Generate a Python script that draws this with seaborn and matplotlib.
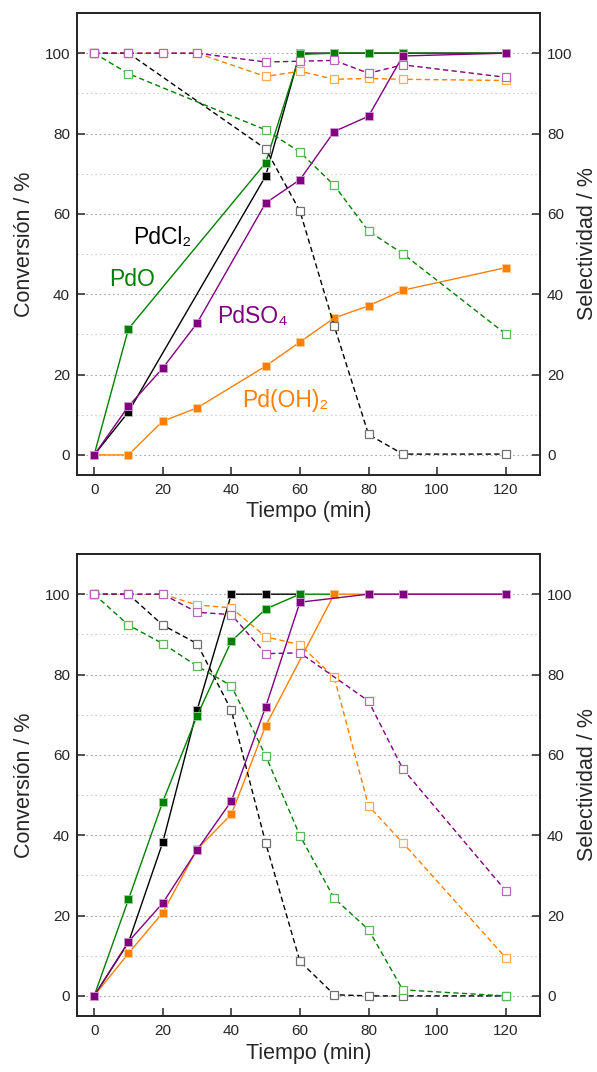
import numpy as np
import pandas as pd
import matplotlib
matplotlib.use("Agg")
import matplotlib.pyplot as plt
from matplotlib.ticker import MultipleLocator
import seaborn as sns

sns.set_style("ticks")
plt.rcParams['font.family'] = ['Liberation Sans', 'DejaVu Sans']

# ---------------- data: top panel ----------------
a_cl_t = [0, 10, 50, 60, 70, 80, 90, 120]
a_cl_conv = [0, 10.7, 69.4, 100, 100, 100, 100, 100]
a_cl_sel_t = [0, 10, 50, 60, 70, 80, 90, 120]
a_cl_sel = [100, 100, 76.2, 60.7, 32.1, 5.1, 0.2, 0.2]

a_o_t = [0, 10, 50, 60, 70, 80, 90, 120]
a_o_conv = [0, 31.4, 72.7, 99.7, 100, 100, 100, 100]
a_o_sel = [100, 94.9, 80.9, 75.4, 67.1, 55.7, 50.1, 30.1]

a_oh_t = [0, 10, 20, 30, 50, 60, 70, 80, 90, 120]
a_oh_conv = [0, 0, 8.4, 11.7, 22.1, 28.1, 34.1, 37.1, 41.0, 46.6]
a_oh_sel = [100, 100, 100, 100, 94.2, 95.5, 93.5, 93.7, 93.5, 93.2]

a_so_t = [0, 10, 20, 30, 50, 60, 70, 80, 90, 120]
a_so_conv = [0, 12.1, 21.6, 32.8, 62.7, 68.5, 80.5, 84.3, 99.3, 100]
a_so_sel = [100, 100, 100, 100, 97.8, 98.0, 98.2, 95.0, 97.1, 94.0]

# ---------------- data: bottom panel ----------------
b_cl_t = [0, 10, 20, 30, 40, 50, 60]
b_cl_conv = [0, 13.3, 38.2, 71.1, 100, 100, 100]
b_cl_sel_t = [0, 10, 20, 30, 40, 50, 60, 70, 80, 90, 120]
b_cl_sel = [100, 100, 92.3, 87.7, 71.1, 38.1, 8.6, 0.3, 0, 0, 0]

b_o_t = [0, 10, 20, 30, 40, 50, 60, 70]
b_o_conv = [0, 24.0, 48.3, 69.7, 88.3, 96.3, 100, 100]
b_o_sel_t = [0, 10, 20, 30, 40, 50, 60, 70, 80, 90, 120]
b_o_sel = [100, 92.3, 87.7, 82.1, 77.2, 59.8, 39.9, 24.3, 16.5, 1.5, 0]

b_oh_t = [0, 10, 20, 30, 40, 50, 70, 80, 90, 120]
b_oh_conv = [0, 10.6, 20.7, 36.5, 45.2, 67.2, 100, 100, 100, 100]
b_oh_sel_t = [0, 10, 20, 30, 40, 50, 60, 70, 80, 90, 120]
b_oh_sel = [100, 100, 100, 97.3, 96.6, 89.4, 87.4, 79.3, 47.3, 38.1, 9.5]

b_so_t = [0, 10, 20, 30, 40, 50, 60, 80, 90, 120]
b_so_conv = [0, 13.5, 23.1, 36.3, 48.5, 71.9, 98.0, 100, 100, 100]
b_so_sel_t = [0, 10, 20, 30, 40, 50, 60, 80, 90, 120]
b_so_sel = [100, 100, 100, 95.5, 94.9, 85.2, 85.4, 73.4, 56.5, 26.2]

x_ticks = [0, 20, 40, 60, 80, 100, 120]
y_ticks = [0, 20, 40, 60, 80, 100]

C_BLACK = "#000000"
C_GREEN = "#008000"
C_PURPLE = "#800080"
C_ORANGE = "#FF8000"
LIGHT = {C_BLACK: "#707070", C_GREEN: "#5db85d", C_PURPLE: "#b868b8", C_ORANGE: "#ffaa55"}
EDGE = {C_BLACK: "#bbbbbb", C_GREEN: "#9fd49f", C_PURPLE: "#d39fd3", C_ORANGE: "#ffcc99"}

W, H = 597, 1072
fig = plt.figure(figsize=(W / 100, H / 100), dpi=100)
ax_top = fig.add_axes([77 / W, 1 - 475 / H, (540 - 77) / W, (475 - 13) / H])
ax_bot = fig.add_axes([77 / W, 1 - 1016 / H, (540 - 77) / W, (1016 - 554) / H])


def conv(ax, t, v, c):
    sns.lineplot(x=t, y=v, ax=ax, color=c, marker='s', markersize=5.6,
                 markerfacecolor=c, markeredgecolor=EDGE[c], markeredgewidth=0.6,
                 linewidth=1.0, estimator=None, sort=False, zorder=3)


def sel(ax, t, v, c):
    sns.lineplot(x=t, y=v, ax=ax, color=c, marker='s', markersize=6.0,
                 markerfacecolor='white', markeredgecolor=LIGHT[c], markeredgewidth=0.9,
                 linewidth=1.0, linestyle=(0, (3.8, 2.4)), estimator=None, sort=False, zorder=3)


def style(ax):
    ax.set_xlim(-5, 130)
    ax.set_ylim(-5, 110)
    ax.set_xticks(x_ticks)
    ax.set_yticks(y_ticks)
    ax.yaxis.set_minor_locator(MultipleLocator(10))
    ax.grid(axis='y', which='major', linestyle=(0, (1.5, 2.5)), color='#a8a8a8', linewidth=0.8, zorder=0)
    ax.grid(axis='y', which='minor', linestyle=(0, (1.5, 2.5)), color='#cfcfcf', linewidth=0.8, zorder=0)
    ax.tick_params(axis='both', which='major', direction='in', length=5.5, width=1.1, labelsize=11)
    ax.tick_params(axis='x', pad=6)
    ax.tick_params(axis='y', pad=5)
    ax.tick_params(axis='y', which='minor', length=0)
    for s in ax.spines.values():
        s.set_linewidth(1.2)
        s.set_color('#222222')
    ax.set_xlabel("Tiempo (min)", fontsize=15.5, labelpad=3)
    ax.set_ylabel("Conversión / %", fontsize=15.5, labelpad=7)
    tw = ax.twinx()
    tw.set_ylim(ax.get_ylim())
    tw.set_yticks(y_ticks)
    tw.tick_params(axis='y', direction='in', length=5.5, width=1.1, labelsize=11, pad=5)
    tw.set_ylabel("Selectividad / %", fontsize=15.5, labelpad=3)
    for s in tw.spines.values():
        s.set_linewidth(1.2)
        s.set_color('#222222')


# top panel
conv(ax_top, a_cl_t, a_cl_conv, C_BLACK)
conv(ax_top, a_o_t, a_o_conv, C_GREEN)
conv(ax_top, a_oh_t, a_oh_conv, C_ORANGE)
conv(ax_top, a_so_t, a_so_conv, C_PURPLE)
sel(ax_top, a_cl_sel_t, a_cl_sel, C_BLACK)
sel(ax_top, a_o_t, a_o_sel, C_GREEN)
sel(ax_top, a_oh_t, a_oh_sel, C_ORANGE)
sel(ax_top, a_so_t, a_so_sel, C_PURPLE)
style(ax_top)

fam = ['Liberation Sans', 'DejaVu Sans']
ax_top.text(11.5, 52.6, "PdCl₂", color=C_BLACK, fontsize=16.5, family=fam, va='baseline')
ax_top.text(4.3, 42.0, "PdO", color=C_GREEN, fontsize=16.5, family=fam, va='baseline')
ax_top.text(35.9, 32.8, "PdSO₄", color=C_PURPLE, fontsize=16.5, family=fam, va='baseline')
ax_top.text(43.1, 11.9, "Pd(OH)₂", color=C_ORANGE, fontsize=16.5, family=fam, va='baseline')

# bottom panel
conv(ax_bot, b_cl_t, b_cl_conv, C_BLACK)
conv(ax_bot, b_o_t, b_o_conv, C_GREEN)
conv(ax_bot, b_oh_t, b_oh_conv, C_ORANGE)
conv(ax_bot, b_so_t, b_so_conv, C_PURPLE)
sel(ax_bot, b_cl_sel_t, b_cl_sel, C_BLACK)
sel(ax_bot, b_o_sel_t, b_o_sel, C_GREEN)
sel(ax_bot, b_oh_sel_t, b_oh_sel, C_ORANGE)
sel(ax_bot, b_so_sel_t, b_so_sel, C_PURPLE)
style(ax_bot)

fig.savefig("out.png", dpi=100)
